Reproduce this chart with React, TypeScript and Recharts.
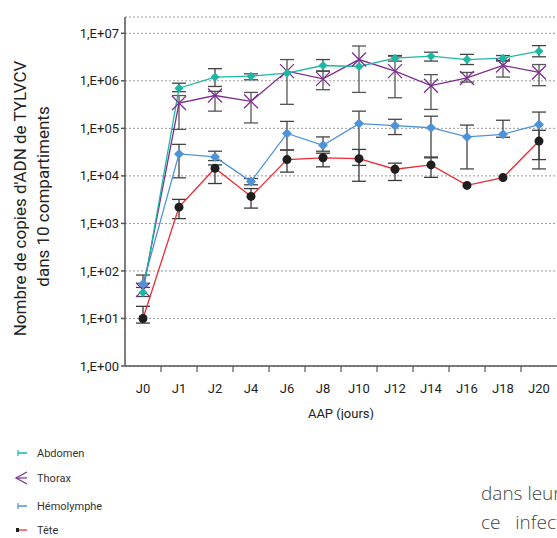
import { LineChart, Line, XAxis, YAxis, CartesianGrid, ErrorBar } from 'recharts';

const days = ['J0', 'J1', 'J2', 'J4', 'J6', 'J8', 'J10', 'J12', 'J14', 'J16', 'J18', 'J20'];
const yTicks = [1, 10, 100, 1e3, 1e4, 1e5, 1e6, 1e7];

const abdomen = [35, 7e5, 1.2e6, 1.25e6, 1.45e6, 2.1e6, 2.0e6, 3.0e6, 3.3e6, 2.8e6, 3.0e6, 4.2e6];
const abdomenLow = [29, 5.9e5, 7.6e5, 1.05e6, null, 1.6e6, null, 2.6e6, 2.6e6, 2.2e6, 2.6e6, 3.2e6];
const abdomenHigh = [55, 8.9e5, 1.8e6, 1.4e6, null, 2.8e6, null, 3.4e6, 4.0e6, 3.6e6, 3.4e6, 5.5e6];

const thorax = [40, 3.4e5, 4.9e5, 3.7e5, 1.6e6, 1.1e6, 2.8e6, 1.6e6, 7.9e5, 1.15e6, 2.1e6, 1.5e6];
const thoraxLow = [null, 9.5e4, 2.3e5, 1.3e5, 3.2e5, 6.5e5, 5.7e5, 4.4e5, 2.5e5, 9.4e5, 1.2e6, 7.9e5];
const thoraxHigh = [null, 4.9e5, 6e5, 5.7e5, 2.8e6, 1.6e6, 5.4e6, 3.3e6, 1.35e6, 1.5e6, 2.7e6, 2.2e6];

const hemo = [53, 2.9e4, 2.5e4, 7.6e3, 7.8e4, 4.4e4, 1.26e5, 1.14e5, 1.03e5, 6.6e4, 7.5e4, 1.2e5];
const hemoLow = [45, 9.1e3, 2.1e4, 6.5e3, 3.5e4, 3.3e4, 1.66e4, 7.4e4, 2.5e4, 1.4e4, 6.5e4, 1.4e4];
const hemoHigh = [82, 4.6e4, 3.3e4, 8.8e3, 1.4e5, 6.6e4, 2.3e5, 1.55e5, 1.8e5, 1.17e5, 1.48e5, 2.2e5];

const tete = [10, 2.2e3, 1.45e4, 3.7e3, 2.2e4, 2.4e4, 2.3e4, 1.38e4, 1.7e4, 6.3e3, 9.2e3, 5.4e4];
const teteLow = [8, 1.26e3, 6.9e3, 2.1e3, 1.2e4, 1.55e4, 7.7e3, 8e3, 9.3e3, null, null, 2.2e4];
const teteHigh = [18, 3.2e3, 1.7e4, 5.4e3, 3.5e4, 3.0e4, 3.6e4, 1.85e4, 2.4e4, null, null, 9.1e4];

const err = (v: number, lo: number | null, hi: number | null) =>
  lo == null || hi == null ? null : [v - lo, hi - v];

const data = days.map((d, i) => ({
  day: d,
  abdomen: abdomen[i],
  abdomenErr: err(abdomen[i], abdomenLow[i], abdomenHigh[i]),
  thorax: thorax[i],
  thoraxErr: err(thorax[i], thoraxLow[i], thoraxHigh[i]),
  hemo: hemo[i],
  hemoErr: err(hemo[i], hemoLow[i], hemoHigh[i]),
  tete: tete[i],
  teteErr: err(tete[i], teteLow[i], teteHigh[i]),
}));

const TEAL = '#1db7a4';
const PURPLE = '#7d2f8f';
const BLUE = '#4f92d8';
const RED = '#ec2a36';
const FONT = 'Roboto, "Liberation Sans", sans-serif';

const Diamond = (color: string, s: number) => (p: any) => {
  const { cx, cy, index } = p;
  if (cx == null || cy == null) return <g key={index} />;
  return (
    <path
      key={index}
      d={`M${cx},${cy - s} L${cx + s},${cy} L${cx},${cy + s} L${cx - s},${cy} Z`}
      fill={color}
    />
  );
};

const Cross = (p: any) => {
  const { cx, cy, index } = p;
  if (cx == null || cy == null) return <g key={index} />;
  const s = 7;
  return (
    <path
      key={index}
      d={`M${cx - s},${cy - s} L${cx + s},${cy + s} M${cx - s},${cy + s} L${cx + s},${cy - s}`}
      stroke={PURPLE}
      strokeWidth={1.3}
      fill="none"
    />
  );
};

const Dot = (p: any) => {
  const { cx, cy, index } = p;
  if (cx == null || cy == null) return <g key={index} />;
  return <circle key={index} cx={cx} cy={cy} r={4.5} fill="#1e1e1e" />;
};

const XTick = (props: any) => {
  const { x, y, payload, visibleTicksCount, index } = props;
  const bw = 36;
  return (
    <g>
      {index < visibleTicksCount - 1 && (
        <line x1={x + bw / 2} x2={x + bw / 2} y1={y} y2={y + 6} stroke="#555" strokeWidth={1.2} />
      )}
      <text x={x} y={y + 27} textAnchor="middle" fontSize={13} fill="#222" fontFamily={FONT}>
        {payload.value}
      </text>
    </g>
  );
};

const YLabel = (props: any) => {
  const vb = props.viewBox || { y: 17, height: 349 };
  const cy = vb.y + vb.height / 2 + 7;
  return (
    <g fontFamily={FONT} fontSize={17} fill="#222" textAnchor="middle">
      <text transform={`translate(26, ${cy}) rotate(-90)`}>Nombre de copies d'ADN de TYLVCV</text>
      <text transform={`translate(49, ${cy - 2}) rotate(-90)`}>dans 10 compartiments</text>
    </g>
  );
};

const legendItems = [
  { name: 'Abdomen', color: TEAL, kind: 'tick', y: 453 },
  { name: 'Thorax', color: PURPLE, kind: 'arrow', y: 478 },
  { name: 'Hémolymphe', color: BLUE, kind: 'tick', y: 506 },
  { name: 'Tête', color: RED, kind: 'dot', y: 530 },
];

const LegendIcon = ({ color, kind }: { color: string; kind: string }) => (
  <svg width={16} height={14} style={{ display: 'block' }}>
    {kind === 'arrow' ? (
      <>
        <path d="M15,1 L4,7 L15,13" stroke={color} strokeWidth={1.2} fill="none" />
        <line x1={4} x2={15} y1={7} y2={7} stroke={color} strokeWidth={1.2} />
      </>
    ) : kind === 'dot' ? (
      <>
        <line x1={6} x2={15} y1={7} y2={7} stroke="#f07a82" strokeWidth={2} />
        <rect x={4} y={5} width={3} height={4} fill="#1e1e1e" />
      </>
    ) : (
      <>
        <line x1={6} x2={15} y1={7} y2={7} stroke={color} strokeWidth={1.5} />
        <line x1={6} x2={6} y1={4} y2={10} stroke={color} strokeWidth={1.2} />
      </>
    )}
  </svg>
);

export default function App() {
  return (
    <div style={{ position: 'relative', width: 557, height: 538, overflow: 'hidden', background: '#fff' }}>
      <style>{`body{margin:0}`}</style>
      <LineChart width={557} height={420} data={data} margin={{ top: 17, right: 0, bottom: 0, left: 0 }}>
        <CartesianGrid vertical={false} stroke="#999" strokeDasharray="2 2" />
        <XAxis
          dataKey="day"
          height={54}
          stroke="#555"
          strokeWidth={1.5}
          tickLine={false}
          tickSize={0}
          tickMargin={0}
          tick={<XTick />}
          interval={0}
          padding={{ left: 18, right: 18 }}
          label={{ value: 'AAP (jours)', position: 'insideBottom', offset: 0, fontSize: 13, fill: '#222', fontFamily: FONT, dy: -2 }}
        />
        <YAxis
          scale="log"
          domain={[1, 2.2e7]}
          ticks={yTicks}
          allowDataOverflow
          width={125}
          stroke="#555"
          strokeWidth={1.5}
          tickSize={4}
          tickMargin={2}
          tick={{ fontSize: 13, fill: '#222', fontFamily: FONT }}
          tickFormatter={(v: number) => `1,E+${String(Math.round(Math.log10(v))).padStart(2, '0')}`}
          label={{ content: <YLabel /> }}
        />
        <Line dataKey="tete" stroke={RED} strokeWidth={1.3} dot={Dot} isAnimationActive={false}>
          <ErrorBar dataKey="teteErr" direction="y" width={7} stroke="#3a3a3a" strokeWidth={1.3} />
        </Line>
        <Line dataKey="hemo" stroke={BLUE} strokeWidth={1.3} dot={Diamond(BLUE, 5)} isAnimationActive={false}>
          <ErrorBar dataKey="hemoErr" direction="y" width={7} stroke="#444" strokeWidth={1.3} />
        </Line>
        <Line dataKey="thorax" stroke={PURPLE} strokeWidth={1.3} dot={Cross} isAnimationActive={false}>
          <ErrorBar dataKey="thoraxErr" direction="y" width={7} stroke="#555" strokeWidth={1.3} />
        </Line>
        <Line dataKey="abdomen" stroke={TEAL} strokeWidth={1.3} dot={Diamond(TEAL, 4.5)} isAnimationActive={false}>
          <ErrorBar dataKey="abdomenErr" direction="y" width={7} stroke="#444" strokeWidth={1.3} />
        </Line>
      </LineChart>
      {legendItems.map((it) => (
        <div
          key={it.name}
          style={{ position: 'absolute', left: 12, top: it.y - 7, display: 'flex', alignItems: 'center', fontFamily: FONT, fontSize: 11, color: '#333' }}
        >
          <LegendIcon color={it.color} kind={it.kind} />
          <span style={{ marginLeft: 9 }}>{it.name}</span>
        </div>
      ))}
      <div style={{ position: 'absolute', left: 481, top: 479, fontFamily: '"Open Sans", sans-serif', fontWeight: 300, fontSize: 19, lineHeight: '29px', color: '#444', whiteSpace: 'pre' }}>
        {'dans leurs\nce   infect'}
      </div>
    </div>
  );
}
